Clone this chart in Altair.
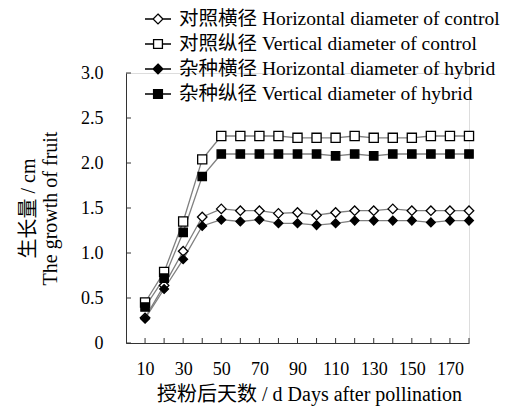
import altair as alt
import pandas as pd

# ---- data ----
days = [10, 20, 30, 40, 50, 60, 70, 80, 90, 100, 110, 120, 130, 140, 150, 160, 170, 180]
control_h = [0.28, 0.64, 1.02, 1.40, 1.49, 1.47, 1.47, 1.44, 1.45, 1.42, 1.45, 1.47, 1.47, 1.49, 1.47, 1.47, 1.47, 1.47]
control_v = [0.45, 0.79, 1.35, 2.04, 2.30, 2.30, 2.30, 2.30, 2.28, 2.28, 2.28, 2.30, 2.28, 2.28, 2.28, 2.30, 2.30, 2.30]
hybrid_h = [0.27, 0.60, 0.93, 1.30, 1.37, 1.35, 1.37, 1.33, 1.33, 1.31, 1.33, 1.36, 1.36, 1.36, 1.36, 1.34, 1.36, 1.36]
hybrid_v = [0.40, 0.72, 1.23, 1.85, 2.10, 2.10, 2.10, 2.10, 2.10, 2.10, 2.08, 2.10, 2.08, 2.10, 2.10, 2.10, 2.10, 2.10]

series_labels = [
    "对照横径 Horizontal diameter of control",
    "对照纵径 Vertical diameter of control",
    "杂种横径 Horizontal diameter of hybrid",
    "杂种纵径 Vertical diameter of hybrid",
]
y_ticks = [0, 0.5, 1.0, 1.5, 2.0, 2.5, 3.0]
x_ticks = days
x_title = "授粉后天数 / d Days after pollination"
y_title = ["生长量 / cm", "The growth of fruit"]

rows = []
for label, vals in zip(series_labels, [control_h, control_v, hybrid_h, hybrid_v]):
    for d, v in zip(days, vals):
        rows.append({"day": d, "value": v, "series": label})
df = pd.DataFrame(rows)

FONT = "Liberation Serif, Noto Sans CJK SC"
W, H = 343, 270
FS = 18
TFS = 20
LFS = 19.5

x_scale = alt.Scale(domain=[0, 180], nice=False, zero=True)
y_scale = alt.Scale(domain=[0, 3], nice=False)

x_axis = alt.Axis(
    values=x_ticks, ticks=False, tickSize=0, grid=False,
    labelExpr="datum.value % 20 == 10 ? datum.label : ''",
    labelPadding=17, labelFlush=False, labelOverlap=False,
    title=x_title, titlePadding=6, titleX=183,
    domainColor="#333333", domainWidth=1,
    labelFont=FONT, titleFont=FONT, labelFontSize=FS, titleFontSize=TFS,
    titleFontWeight="normal", labelColor="black", titleColor="black",
)
y_axis = alt.Axis(
    values=y_ticks, ticks=False, tickSize=0, grid=False,
    labelExpr="datum.value == 0 ? '0' : format(datum.value, '.1f')",
    labelPadding=23, labelFlush=False, labelOverlap=False,
    title=y_title, titlePadding=20, titleLineHeight=22,
    domainColor="#333333", domainWidth=1,
    labelFont=FONT, titleFont=FONT, labelFontSize=FS, titleFontSize=TFS,
    titleFontWeight="normal", labelColor="black", titleColor="black",
)

base = alt.Chart(df)

lines = base.mark_line(color="#808080", strokeWidth=1.3).encode(
    x=alt.X("day:Q", scale=x_scale, axis=x_axis),
    y=alt.Y("value:Q", scale=y_scale, axis=y_axis),
    detail="series:N",
)

points = base.mark_point(filled=True, stroke="black", strokeWidth=1.3, opacity=1).encode(
    x=alt.X("day:Q", scale=x_scale),
    y=alt.Y("value:Q", scale=y_scale),
    shape=alt.Shape("series:N", scale=alt.Scale(domain=series_labels, range=["diamond", "square", "diamond", "square"]), legend=None),
    fill=alt.Fill("series:N", scale=alt.Scale(domain=series_labels, range=["white", "white", "black", "black"]), legend=None),
    size=alt.Size("series:N", scale=alt.Scale(domain=series_labels, range=[90, 70, 90, 70]), legend=None),
)

# inward tick marks
xt = alt.Chart(pd.DataFrame({"t": x_ticks})).mark_rule(color="#333333", strokeWidth=1).encode(
    x=alt.X("t:Q", scale=x_scale), y=alt.value(H - 5), y2=alt.value(H)
)
yt = alt.Chart(pd.DataFrame({"t": y_ticks})).mark_rule(color="#333333", strokeWidth=1).encode(
    y=alt.Y("t:Q", scale=y_scale), x=alt.value(0), x2=alt.value(5)
)

# legend (symbols with line stubs)
diamond_path = "M-1,0L-0.38,0M0.38,0L1,0M0,-0.38L0.38,0L0,0.38L-0.38,0Z"
square_path = "M-1,0L-0.34,0M0.34,0L1,0M-0.34,-0.34L0.34,-0.34L0.34,0.34L-0.34,0.34Z"
leg = dict(
    orient="none", legendX=18, legendY=-68, title=None, padding=0,
    symbolSize=676, symbolStrokeColor="black", symbolStrokeWidth=1.3, symbolOpacity=1,
    labelFont=FONT, labelFontSize=LFS, labelColor="black", labelOffset=7,
    rowPadding=1, labelLimit=0,
)
legend_layer = alt.Chart(pd.DataFrame({"entry": series_labels})).mark_point(
    filled=True, opacity=0, strokeWidth=1.3
).encode(
    shape=alt.Shape("entry:N", scale=alt.Scale(domain=series_labels, range=[diamond_path, square_path, diamond_path, square_path]), legend=alt.Legend(**leg)),
    fill=alt.Fill("entry:N", scale=alt.Scale(domain=series_labels, range=["white", "white", "black", "black"]), legend=alt.Legend(**leg)),
    stroke=alt.Stroke("entry:N", scale=alt.Scale(domain=series_labels, range=["black", "black", "black", "black"]), legend=alt.Legend(**leg)),
)

chart = alt.layer(lines, xt, yt, points, legend_layer).resolve_scale(
    shape="independent", fill="independent", size="independent", stroke="independent"
).properties(
    width=W, height=H,
    autosize=alt.AutoSizeParams(type="none"),
    padding={"left": 118, "top": 65, "right": 34, "bottom": 63},
).configure_view(stroke=None).configure(background="white")

chart.save("out.html", embed_options={"renderer": "svg", "actions": False})
